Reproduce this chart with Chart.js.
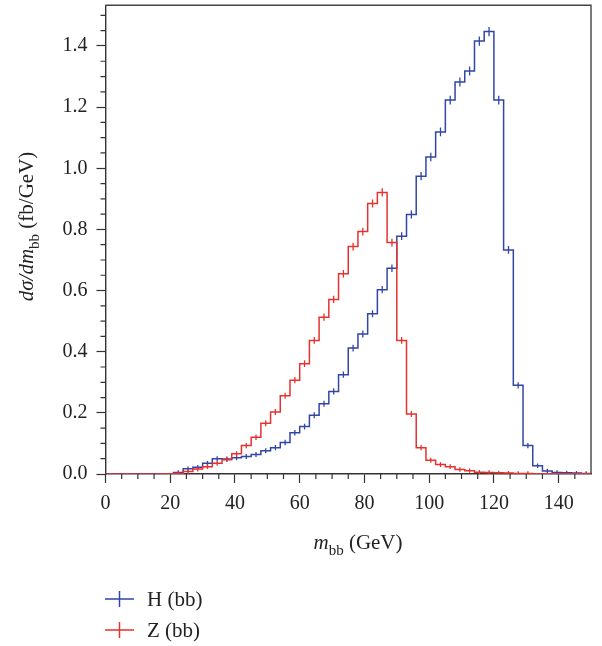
<!DOCTYPE html>
<html>
<head>
<meta charset="utf-8">
<script src="https://cdn.jsdelivr.net/npm/chart.js@4.4.1/dist/chart.umd.min.js"></script>
<style>
  html, body { margin: 0; padding: 0; background: #fff; }
  #wrap { position: relative; width: 602px; height: 646px; }
</style>
</head>
<body>
<div id="wrap"><canvas id="c" width="602" height="646"></canvas></div>
<script>
// ---- data (bins of 3 GeV from 0 to 150) ----
const binWidth = 3;
const xTicks = [0, 20, 40, 60, 80, 100, 120, 140];
const yTicks = [0.0, 0.2, 0.4, 0.6, 0.8, 1.0, 1.2, 1.4];
const seriesNames = ['H (bb)', 'Z (bb)'];
const hValues = [
  0, 0, 0, 0, 0, 0,
  0.001, 0.005, 0.017, 0.022, 0.035, 0.050, 0.049, 0.053, 0.057, 0.064,
  0.076, 0.086, 0.103, 0.135, 0.155, 0.192, 0.230, 0.270, 0.325, 0.412,
  0.458, 0.524, 0.603, 0.673, 0.778, 0.849, 0.974, 1.037, 1.119, 1.223,
  1.282, 1.318, 1.416, 1.447, 1.223, 0.733, 0.290, 0.093, 0.027, 0.010,
  0.005, 0.004, 0.003, 0.002
];
const zValues = [
  0, 0, 0, 0, 0, 0,
  0.0005, 0.002, 0.008, 0.016, 0.024, 0.035, 0.047, 0.066, 0.093, 0.120,
  0.166, 0.203, 0.256, 0.307, 0.361, 0.437, 0.513, 0.571, 0.655, 0.744,
  0.793, 0.885, 0.921, 0.757, 0.437, 0.196, 0.086, 0.045, 0.031, 0.024,
  0.015, 0.011, 0.006, 0.005, 0.004, 0.003, 0.002, 0.002, 0.001, 0.001,
  0.001, 0.001, 0.0005, 0.0005
];

const blue = '#3146a5';
const red = '#e5322f';
const FONT = '"Liberation Serif", "DejaVu Serif", serif';

function stepPoints(vals) {
  const pts = vals.map((v, i) => ({ x: i * binWidth, y: v }));
  pts.push({ x: vals.length * binWidth, y: vals[vals.length - 1] });
  return pts;
}
function centerPoints(vals) {
  return vals.map((v, i) => ({ x: (i + 0.5) * binWidth, y: v }));
}
function errRadius(ctx) {
  const v = ctx.raw ? ctx.raw.y : 0;
  return v > 0.0015 ? 2 + 2.6 * Math.sqrt(v / 1.45) : 0;
}

function drawRich(ctx, segs, x, y, size) {
  const sub = Math.round(size * 0.72);
  let total = 0;
  const widths = segs.map(s => {
    ctx.font = (s.it ? 'italic ' : '') + (s.sub ? sub : size) + 'px ' + FONT;
    const w = ctx.measureText(s.t).width;
    total += w;
    return w;
  });
  let cx = x - total / 2;
  segs.forEach((s, i) => {
    ctx.font = (s.it ? 'italic ' : '') + (s.sub ? sub : size) + 'px ' + FONT;
    ctx.fillText(s.t, cx, y + (s.sub ? size * 0.28 : 0));
    cx += widths[i];
  });
}

const decor = {
  id: 'decor',
  afterDraw(chart) {
    const ctx = chart.ctx;
    const a = chart.chartArea;
    const xs = chart.scales.x, ys = chart.scales.y;
    ctx.save();
    // frame top & right
    ctx.strokeStyle = '#444';
    ctx.lineWidth = 1.4;
    ctx.beginPath();
    ctx.moveTo(a.left, a.top); ctx.lineTo(a.right, a.top); ctx.lineTo(a.right, a.bottom);
    ctx.stroke();
    // minor ticks
    ctx.lineWidth = 1.2;
    ctx.strokeStyle = '#333';
    ctx.beginPath();
    for (let v = 5; v < 150; v += 5) {
      if (v % 20 === 0) continue;
      const px = xs.getPixelForValue(v);
      ctx.moveTo(px, a.bottom); ctx.lineTo(px, a.bottom + 5);
    }
    for (let k = 1; k <= 30; k++) {
      if (k % 4 === 0) continue;
      const v = k * 0.05;
      const py = ys.getPixelForValue(v);
      if (py < a.top) continue;
      ctx.moveTo(a.left, py); ctx.lineTo(a.left - 5, py);
    }
    ctx.stroke();
    // axis titles
    ctx.fillStyle = '#222';
    ctx.textBaseline = 'alphabetic';
    ctx.textAlign = 'left';
    drawRich(ctx, [
      { t: 'm', it: true }, { t: 'bb', sub: true }, { t: ' (GeV)' }
    ], 358, 549, 21);
    ctx.save();
    ctx.translate(33, 226.5);
    ctx.rotate(-Math.PI / 2);
    drawRich(ctx, [
      { t: 'd\u03C3/dm', it: true }, { t: 'bb', sub: true }, { t: ' (fb/GeV)' }
    ], 0, 0, 21);
    ctx.restore();
    // legend
    const rows = [
      { name: seriesNames[0], color: blue, y: 599 },
      { name: seriesNames[1], color: red, y: 630 }
    ];
    rows.forEach(r => {
      ctx.strokeStyle = r.color;
      ctx.lineWidth = 1.5;
      ctx.beginPath();
      ctx.moveTo(105, r.y); ctx.lineTo(134, r.y);
      ctx.moveTo(119.5, r.y - 8); ctx.lineTo(119.5, r.y + 8);
      ctx.stroke();
      ctx.fillStyle = '#222';
      ctx.font = '21px ' + FONT;
      ctx.textBaseline = 'middle';
      ctx.fillText(r.name, 147, r.y + 1);
    });
    ctx.restore();
  }
};

function noPad(s) { s.paddingTop = 0; s.paddingBottom = 0; s.paddingLeft = 0; s.paddingRight = 0; }

new Chart(document.getElementById('c'), {
  type: 'line',
  data: {
    datasets: [
      { label: seriesNames[1], data: stepPoints(zValues), stepped: 'before', borderColor: red, borderWidth: 1.5, pointRadius: 0, fill: false, order: 0 },
      { label: seriesNames[1] + ' err', data: centerPoints(zValues), showLine: false, pointStyle: 'line', rotation: 90, radius: errRadius, borderColor: red, backgroundColor: red, pointBorderWidth: 1.3, order: 0 },
      { label: seriesNames[0], data: stepPoints(hValues), stepped: 'before', borderColor: blue, borderWidth: 1.5, pointRadius: 0, fill: false, order: 1 },
      { label: seriesNames[0] + ' err', data: centerPoints(hValues), showLine: false, pointStyle: 'line', rotation: 90, radius: errRadius, borderColor: blue, backgroundColor: blue, pointBorderWidth: 1.3, order: 1 }
    ]
  },
  options: {
    responsive: false,
    animation: false,
    events: [],
    layout: { padding: { left: 0, right: 11, top: 2, bottom: 0 } },
    plugins: { legend: { display: false }, tooltip: { enabled: false } },
    scales: {
      x: {
        type: 'linear', min: 0, max: 150,
        afterFit: s => { s.height = 172; noPad(s); },
        afterBuildTicks: s => { s.ticks = xTicks.map(v => ({ value: v })); },
        ticks: { font: { family: FONT, size: 20 }, color: '#222', padding: 9, maxRotation: 0, autoSkip: false,
                 callback: v => String(v) },
        grid: { display: true, drawOnChartArea: false, drawTicks: true, tickLength: 9, tickColor: '#333', tickWidth: 1.2 },
        border: { display: true, color: '#333', width: 1.4 }
      },
      y: {
        type: 'linear', min: 0, max: 1.533,
        afterFit: s => { s.width = 105.5; noPad(s); },
        afterBuildTicks: s => { s.ticks = yTicks.map(v => ({ value: v })); },
        ticks: { font: { family: FONT, size: 20 }, color: '#222', padding: 9, autoSkip: false,
                 callback: v => Number(v).toFixed(1) },
        grid: { display: true, drawOnChartArea: false, drawTicks: true, tickLength: 9, tickColor: '#333', tickWidth: 1.2 },
        border: { display: true, color: '#333', width: 1.4 }
      }
    }
  },
  plugins: [decor]
});
</script>
</body>
</html>
